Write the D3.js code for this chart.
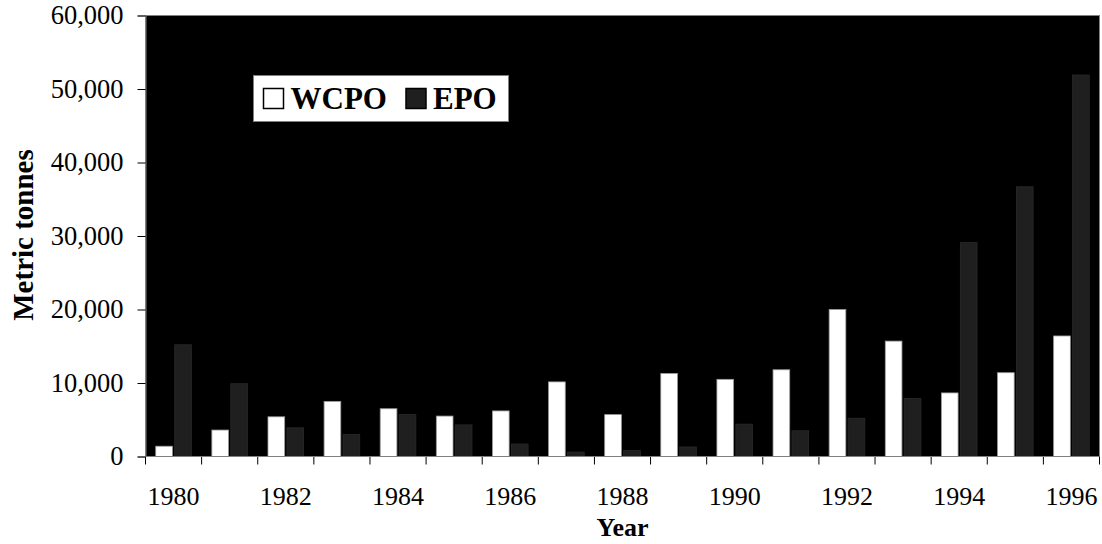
<!DOCTYPE html>
<html>
<head>
<meta charset="utf-8">
<script src="https://cdn.jsdelivr.net/npm/d3@7"></script>
<style>
  body { margin: 0; background: #fff; }
  svg { display: block; font-family: "Liberation Serif", "Times New Roman", serif; }
</style>
</head>
<body>
<svg width="1102" height="544"></svg>
<script>
// data
var years = [1980, 1981, 1982, 1983, 1984, 1985, 1986, 1987, 1988,
             1989, 1990, 1991, 1992, 1993, 1994, 1995, 1996];
var seriesNames = ["WCPO", "EPO"];
var wcpo = [1400, 3600, 5400, 7500, 6500, 5500, 6200, 10150, 5700,
            11300, 10500, 11800, 20000, 15700, 8650, 11400, 16400];
var epo = [15200, 9900, 3900, 3000, 5700, 4300, 1700, 600, 800,
           1300, 4400, 3500, 5200, 7900, 29100, 36700, 51900];
var yTicks = [0, 10000, 20000, 30000, 40000, 50000, 60000];
var labelYears = [1980, 1982, 1984, 1986, 1988, 1990, 1992, 1994, 1996];

var colors = { WCPO: "#ffffff", EPO: "#1f1f1f" };

var svg = d3.select("svg");
// note: "top" is taken by window.top, so plot edges get their own names
var plotLeft = 145.5, plotRight = 1099.5, plotTop = 15.5, plotBottom = 456.5;

var x = d3.scaleBand()
  .domain(years)
  .range([plotLeft, plotRight])
  .padding(0);

// bars inside each year slot
var xs = d3.scaleBand()
  .domain(seriesNames)
  .range([0, x.bandwidth()])
  .paddingInner(0.12)
  .paddingOuter(0.54);

var y = d3.scaleLinear()
  .domain([0, 60000])
  .range([plotBottom, plotTop]);

// plot area
svg.append("rect")
  .attr("x", plotLeft).attr("y", plotTop)
  .attr("width", plotRight - plotLeft).attr("height", plotBottom - plotTop)
  .attr("fill", "#000")
  .attr("stroke", "#808080")
  .attr("stroke-width", 1);

var rows = years.map(function(yr, i) {
  return { year: yr, WCPO: wcpo[i], EPO: epo[i] };
});

var groups = svg.append("g").attr("class", "bars")
  .selectAll("g")
  .data(rows)
  .enter().append("g")
  .attr("transform", function(d) { return "translate(" + x(d.year) + ",0)"; });

groups.selectAll("rect")
  .data(function(d) { return seriesNames.map(function(k) { return { key: k, value: d[k] }; }); })
  .enter().append("rect")
  .attr("x", function(d) { return xs(d.key); })
  .attr("width", xs.bandwidth())
  .attr("y", function(d) { return y(d.value); })
  .attr("height", function(d) { return plotBottom - y(d.value); })
  .attr("fill", function(d) { return colors[d.key]; })
  .attr("stroke", function(d) { return d.key === "WCPO" ? "#9a9a9a" : "#2a2a2a"; })
  .attr("stroke-width", 0.8);

// y axis
var yAxis = svg.append("g")
  .attr("transform", "translate(" + plotLeft + ",0)")
  .call(d3.axisLeft(y)
    .tickValues(yTicks)
    .tickFormat(d3.format(","))
    .tickSize(8)
    .tickPadding(14));
yAxis.select(".domain").attr("stroke", "#808080");
yAxis.selectAll(".tick line").attr("stroke", "#000");
yAxis.selectAll("text")
  .attr("font-family", "Liberation Serif, Times New Roman, serif")
  .attr("font-size", 26.5)
  .attr("fill", "#000");

// x axis: ticks on slot boundaries, labels on every other year
var bounds = years.map(function(d) { return x(d); }).concat([plotRight]);
svg.append("g").attr("class", "xticks")
  .selectAll("line")
  .data(bounds)
  .enter().append("line")
  .attr("x1", function(d) { return d; })
  .attr("x2", function(d) { return d; })
  .attr("y1", plotBottom)
  .attr("y2", plotBottom + 8)
  .attr("stroke", "#000");
svg.append("line")
  .attr("x1", plotLeft).attr("x2", plotRight)
  .attr("y1", plotBottom).attr("y2", plotBottom)
  .attr("stroke", "#808080");

svg.append("g").attr("class", "xlabels")
  .selectAll("text")
  .data(labelYears)
  .enter().append("text")
  .attr("x", function(d) { return x(d) + x.bandwidth() / 2; })
  .attr("y", 505)
  .attr("text-anchor", "middle")
  .attr("font-size", 26)
  .text(function(d) { return d; });

// axis titles
svg.append("text")
  .attr("x", (plotLeft + plotRight) / 2)
  .attr("y", 536)
  .attr("text-anchor", "middle")
  .attr("font-weight", "bold")
  .attr("font-size", 26)
  .text("Year");

svg.append("text")
  .attr("transform", "translate(33,235) rotate(-90)")
  .attr("text-anchor", "middle")
  .attr("font-weight", "bold")
  .attr("font-size", 29)
  .text("Metric tonnes");

// legend
var legend = svg.append("g").attr("class", "legend");
legend.append("rect")
  .attr("x", 253.5).attr("y", 75.5)
  .attr("width", 255).attr("height", 46)
  .attr("fill", "#fff")
  .attr("stroke", "#808080");
var legX = [263.5, 406];
seriesNames.forEach(function(name, i) {
  legend.append("rect")
    .attr("x", legX[i]).attr("y", 88.5)
    .attr("width", 20).attr("height", 20)
    .attr("fill", colors[name])
    .attr("stroke", "#000")
    .attr("stroke-width", 1.5);
  legend.append("text")
    .attr("x", legX[i] + 27)
    .attr("y", 109)
    .attr("font-weight", "bold")
    .attr("font-size", 31)
    .text(name);
});
</script>
</body>
</html>
